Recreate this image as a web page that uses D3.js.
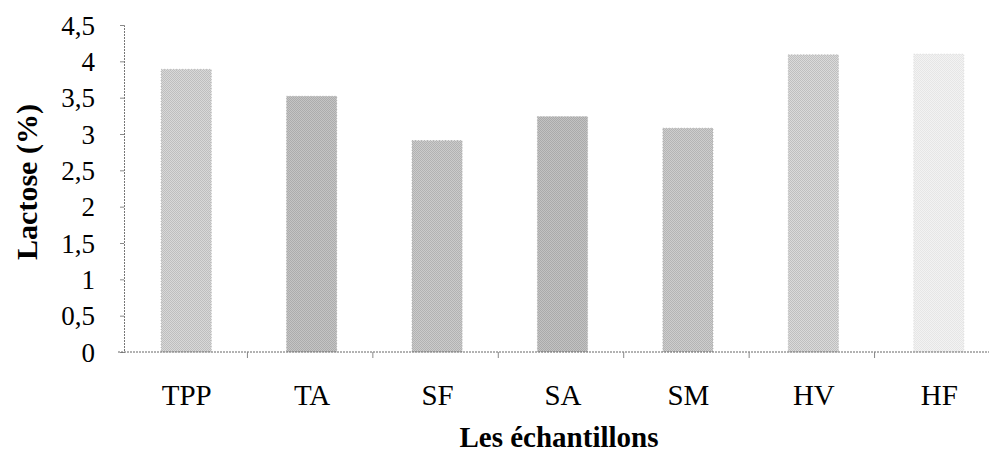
<!DOCTYPE html>
<html>
<head>
<meta charset="utf-8">
<script src="https://cdn.jsdelivr.net/npm/d3@7"></script>
<style>
  html, body { margin: 0; padding: 0; background: #fff; }
  svg { display: block; }
</style>
</head>
<body>
<svg id="chart" width="989" height="463"></svg>
<script>
// Lactose content per sample
const categories = ["TPP", "TA", "SF", "SA", "SM", "HV", "HF"];
const lactose = [3.89, 3.52, 2.91, 3.24, 3.08, 4.09, 4.10];
const yTicks = [0, 0.5, 1, 1.5, 2, 2.5, 3, 3.5, 4, 4.5];
const barTones = ["#d8d8d8", "#c4c4c4", "#cbcbcb", "#c2c2c2", "#cdcdcd", "#dadada", "#f3f3f3"];

const SERIF = "'Liberation Serif', 'Times New Roman', Tinos, 'DejaVu Serif', serif";

const svg = d3.select("#chart").attr("font-family", SERIF);
const W = 989, H = 463;
const plotLeft = 122, plotRight = 1000, plotTop = 25, plotBottom = 352;

const x = d3.scaleBand().domain(categories).range([plotLeft, plotRight]).padding(0);
const y = d3.scaleLinear().domain([0, 4.5]).range([plotBottom, plotTop]);

// stipple texture for the bars
const defs = svg.append("defs");
const pat = defs.append("pattern").attr("id", "stipple")
  .attr("width", 2).attr("height", 2).attr("patternUnits", "userSpaceOnUse");
pat.append("rect").attr("x", 0).attr("y", 0).attr("width", 1).attr("height", 1).attr("fill", "#000").attr("opacity", 0.2);
pat.append("rect").attr("x", 1).attr("y", 1).attr("width", 1).attr("height", 1).attr("fill", "#000").attr("opacity", 0.2);

const fmt = d => String(d).replace(".", ",");

// bars
const barW = x.bandwidth() * 0.4;
const barX = c => x(c) + (x.bandwidth() - barW) / 2 + 1.5;
const bars = svg.append("g");
bars.selectAll("rect.bar").data(categories).join("rect")
  .attr("class", "bar")
  .attr("x", barX)
  .attr("y", (c, i) => y(lactose[i]))
  .attr("width", barW)
  .attr("height", (c, i) => y(0) - y(lactose[i]))
  .attr("fill", (c, i) => barTones[i]);
bars.selectAll("rect.tex").data(categories).join("rect")
  .attr("class", "tex")
  .attr("x", barX)
  .attr("y", (c, i) => y(lactose[i]))
  .attr("width", barW)
  .attr("height", (c, i) => y(0) - y(lactose[i]))
  .attr("fill", "url(#stipple)")
  .attr("opacity", (c, i) => i === 6 ? 0.25 : 0.6)
  .attr("stroke", "#999")
  .attr("stroke-width", 1)
  .attr("stroke-dasharray", "1,2");

// y axis
const yAxis = d3.axisLeft(y).tickValues(yTicks).tickSize(4).tickFormat(fmt);
const gy = svg.append("g").attr("transform", `translate(${plotLeft + 2},0)`).call(yAxis)
  .attr("font-family", SERIF).attr("font-size", 27);
gy.select(".domain").attr("stroke", "#777").attr("stroke-dasharray", "2,1");
gy.selectAll(".tick line").attr("stroke", "#888");
gy.selectAll(".tick text")
  .attr("x", -29)
  .attr("dy", "0.34em")
  .attr("fill", "#000");

// x axis
const gx = svg.append("g").attr("transform", `translate(0,${plotBottom})`);
gx.append("line").attr("x1", plotLeft - 4).attr("x2", W).attr("y1", 0).attr("y2", 0)
  .attr("stroke", "#666").attr("stroke-dasharray", "2,1");
gx.selectAll("line.sep").data(categories.slice(1)).join("line")
  .attr("class", "sep")
  .attr("x1", c => x(c)).attr("x2", c => x(c))
  .attr("y1", 0).attr("y2", 6)
  .attr("stroke", "#888");
gx.selectAll("text.cat").data(categories).join("text")
  .attr("class", "cat")
  .attr("x", c => x(c) + x.bandwidth() / 2 + 2)
  .attr("y", 53)
  .attr("text-anchor", "middle")
  .attr("font-size", 29)
  .text(c => c);

// axis titles
svg.append("text")
  .attr("transform", "translate(37,182) rotate(-90)")
  .attr("text-anchor", "middle")
  .attr("font-size", 30)
  .attr("font-weight", "bold")
  .text("Lactose (%)");
svg.append("text")
  .attr("x", 559)
  .attr("y", 447)
  .attr("text-anchor", "middle")
  .attr("font-size", 29)
  .attr("font-weight", "bold")
  .text("Les échantillons");
</script>
</body>
</html>
